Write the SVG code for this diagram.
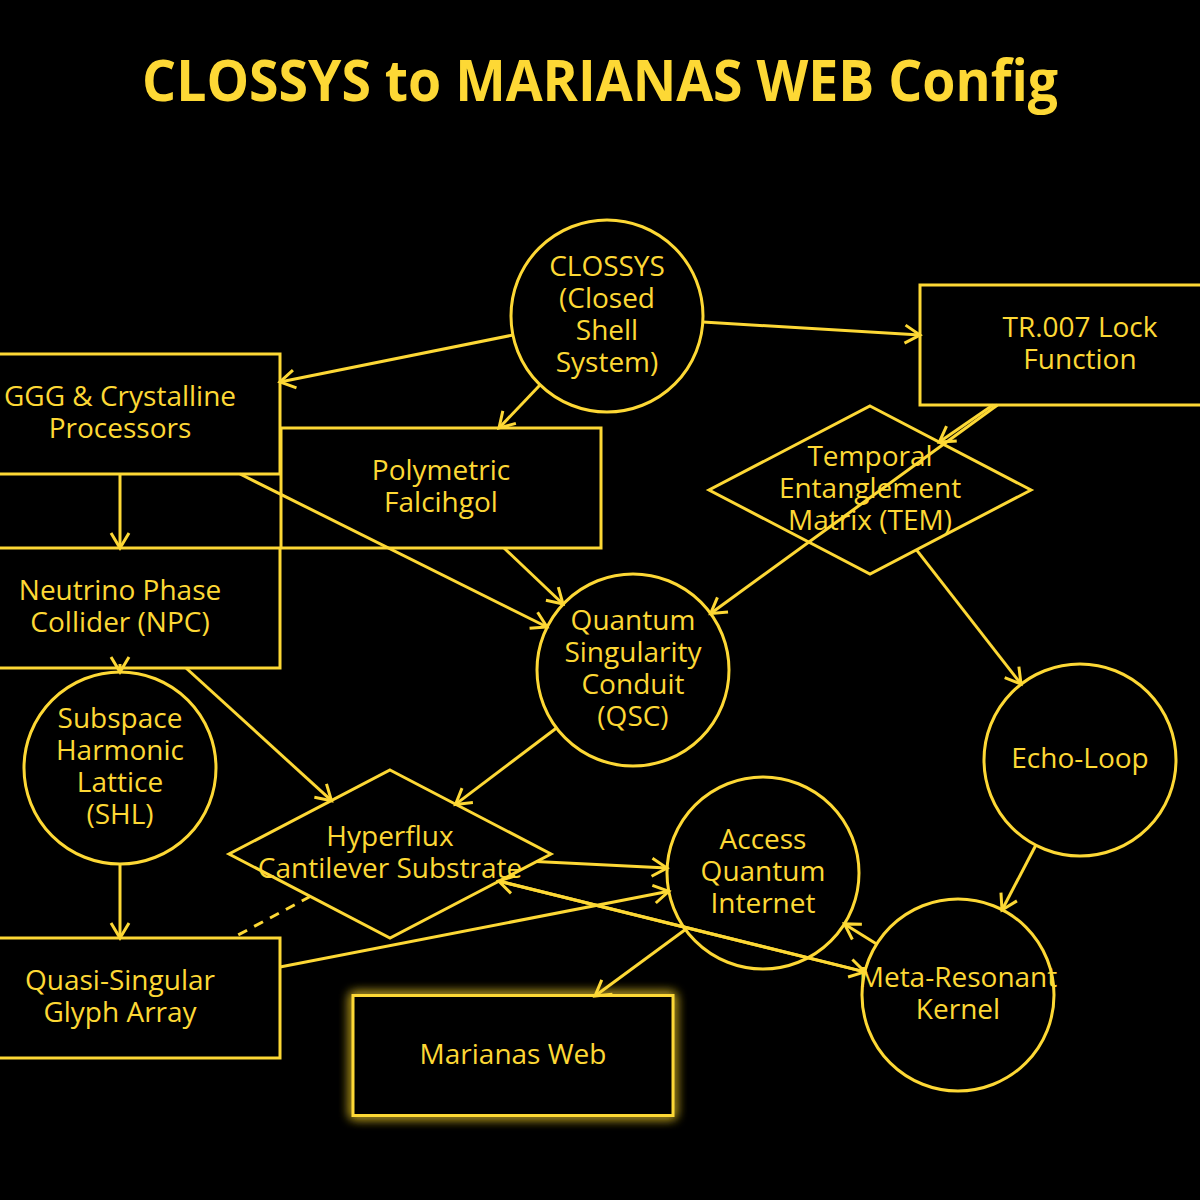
<svg xmlns="http://www.w3.org/2000/svg" width="1200" height="1200" viewBox="0 0 1200 1200">
<defs>
<style>
.bg{fill:#000}
.n{fill:#000;stroke:#FDD835;stroke-width:3}
.t{font-family:"Open Sans","Noto Sans",sans-serif;font-size:28px;fill:#FDD835;text-anchor:middle}
.title{font-family:"Open Sans","Noto Sans",sans-serif;font-size:58px;font-weight:bold;fill:#FDD835;text-anchor:middle}
.e{fill:none;stroke:#FDD835;stroke-width:3;marker-end:url(#arr)}
.d{fill:none;stroke:#FDD835;stroke-width:3;stroke-dasharray:10,8}
</style>
<marker id="arr" markerUnits="userSpaceOnUse" viewBox="-17 -11 19 22" refX="0" refY="0" markerWidth="19" markerHeight="22" orient="auto" overflow="visible">
<path d="M-15,-9 L0,0 L-15,9" fill="none" stroke="#FDD835" stroke-width="3"/>
</marker>
<filter id="glow" x="-20%" y="-30%" width="140%" height="160%">
<feGaussianBlur in="SourceGraphic" stdDeviation="6" result="b"/>
<feMerge><feMergeNode in="b"/><feMergeNode in="b"/><feMergeNode in="SourceGraphic"/></feMerge>
</filter>
</defs>
<rect class="bg" x="0" y="0" width="1200" height="1200"/>
<text class="title" x="600" y="101" textLength="916" lengthAdjust="spacingAndGlyphs">CLOSSYS to MARIANAS WEB Config</text>

<g id="nodes">
<g id="clossys"><circle class="n" cx="607" cy="316" r="96"/>
<text class="t" x="607" y="276">CLOSSYS</text><text class="t" x="607" y="308">(Closed</text><text class="t" x="607" y="340">Shell</text><text class="t" x="607" y="372">System)</text></g>
<g id="tr007"><rect class="n" x="920" y="285" width="320" height="120"/>
<text class="t" x="1080" y="337">TR.007 Lock</text><text class="t" x="1080" y="369">Function</text></g>
<g id="ggg"><rect class="n" x="-40" y="354" width="320" height="120"/>
<text class="t" x="120" y="406">GGG &amp; Crystalline</text><text class="t" x="120" y="438">Processors</text></g>
<g id="poly"><rect class="n" x="281" y="428" width="320" height="120"/>
<text class="t" x="441" y="480">Polymetric</text><text class="t" x="441" y="512">Falcihgol</text></g>
<g id="npc"><rect class="n" x="-40" y="548" width="320" height="120"/>
<text class="t" x="120" y="600">Neutrino Phase</text><text class="t" x="120" y="632">Collider (NPC)</text></g>
<g id="shl"><circle class="n" cx="120" cy="768" r="96"/>
<text class="t" x="120" y="728">Subspace</text><text class="t" x="120" y="760">Harmonic</text><text class="t" x="120" y="792">Lattice</text><text class="t" x="120" y="824">(SHL)</text></g>
<g id="quasi"><rect class="n" x="-40" y="938" width="320" height="120"/>
<text class="t" x="120" y="990">Quasi-Singular</text><text class="t" x="120" y="1022">Glyph Array</text></g>
<g id="marianas"><rect class="n" x="353" y="995.5" width="320" height="120" filter="url(#glow)"/>
<text class="t" x="513" y="1064">Marianas Web</text></g>
<g id="qsc"><circle class="n" cx="633" cy="670" r="96"/>
<text class="t" x="633" y="630">Quantum</text><text class="t" x="633" y="662">Singularity</text><text class="t" x="633" y="694">Conduit</text><text class="t" x="633" y="726">(QSC)</text></g>
<g id="tem"><polygon class="n" points="870,406 1031,490 870,574 709,490"/>
<text class="t" x="870" y="466">Temporal</text><text class="t" x="870" y="498">Entanglement</text><text class="t" x="870" y="530">Matrix (TEM)</text></g>
<g id="echo"><circle class="n" cx="1080" cy="760" r="96"/>
<text class="t" x="1080" y="768">Echo-Loop</text></g>
<g id="hyper"><polygon class="n" points="390,770 551,854 390,938 229,854"/>
<text class="t" x="390" y="846">Hyperflux</text><text class="t" x="390" y="878">Cantilever Substrate</text></g>
<g id="access"><circle class="n" cx="763" cy="873" r="96"/>
<text class="t" x="763" y="849">Access</text><text class="t" x="763" y="881">Quantum</text><text class="t" x="763" y="913">Internet</text></g>
<g id="meta"><circle class="n" cx="958" cy="995" r="96"/>
<text class="t" x="958" y="987">Meta-Resonant</text><text class="t" x="958" y="1019">Kernel</text></g>
</g>

<g id="connectors">
<line class="e" x1="513" y1="335" x2="280" y2="382"/>
<line class="e" x1="540" y1="385" x2="499" y2="428"/>
<line class="e" x1="703" y1="322" x2="920" y2="335"/>
<line class="e" x1="993" y1="405" x2="939.3" y2="442.1"/>
<line class="e" x1="997.5" y1="405" x2="710.6" y2="613.5"/>
<line class="e" x1="120" y1="474" x2="120" y2="548"/>
<line class="e" x1="240" y1="474" x2="547" y2="627"/>
<line class="e" x1="504" y1="548" x2="563" y2="604"/>
<line class="e" x1="120" y1="664" x2="120" y2="672"/>
<line class="e" x1="186" y1="668" x2="331.5" y2="800.7"/>
<line class="e" x1="556.5" y1="728" x2="455.5" y2="804.4"/>
<line class="e" x1="916.5" y1="549.8" x2="1021" y2="684"/>
<line class="e" x1="1035.8" y1="845.2" x2="1002" y2="910"/>
<line class="e" x1="536" y1="861.4" x2="667" y2="868"/>
<line class="e" x1="498.6" y1="881" x2="864.8" y2="971.9"/>
<line class="e" x1="864.8" y1="971.9" x2="498.6" y2="881"/>
<line class="e" x1="280" y1="967" x2="668.8" y2="891.3"/>
<line class="e" x1="876.6" y1="944" x2="844.4" y2="923.9"/>
<line class="e" x1="685.4" y1="929.5" x2="595" y2="996"/>
<line class="e" x1="120" y1="864" x2="120" y2="938"/>
<line class="d" x1="310.6" y1="896.3" x2="232.5" y2="938"/>
</g>
</svg>
